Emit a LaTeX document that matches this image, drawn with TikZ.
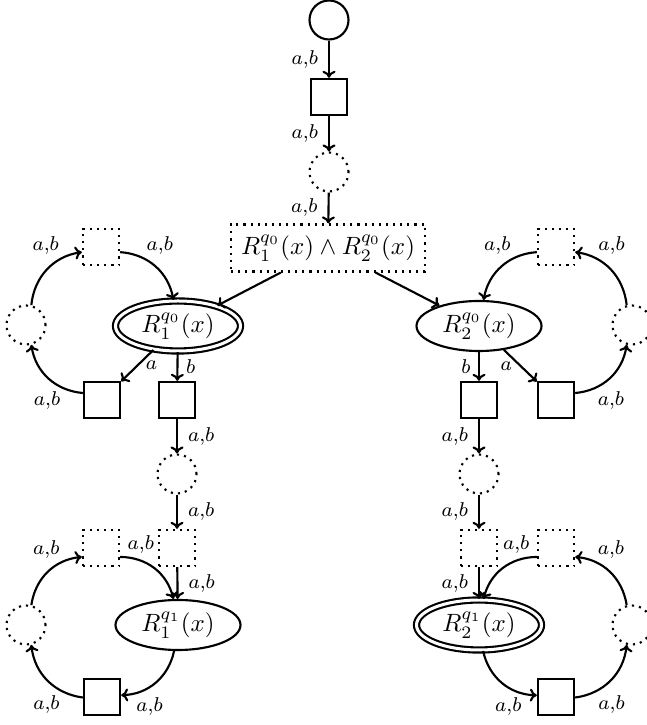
\documentclass[tikz,border=0pt]{standalone}
\usepackage{amsmath, amssymb}
\usetikzlibrary{shapes.geometric, arrows.meta}

\begin{document}
\begin{tikzpicture}[x=0.4pt, y=0.4pt, line width=0.85pt,
    >={Computer Modern Rightarrow[length=2.8pt, width=5.2pt]},
    sqstate/.style={draw, minimum size=14.5pt, inner sep=0pt},
    sqhole/.style={sqstate, dotted},
    cstate/.style={draw, circle, minimum size=15.6pt, inner sep=0pt},
    chole/.style={cstate, dotted},
    rel/.style={draw, ellipse, minimum width=50pt, minimum height=20pt, inner sep=1pt},
    accrel/.style={rel, double, double distance=1.2pt},
    lab/.style={font=\footnotesize, inner sep=1pt}]

    \useasboundingbox (0,0) rectangle (646,725);

    % Anfang
    \node[cstate] (init) at (329,705) {};
    \node[sqstate] (s0) at (329,628) {};
    \node[chole] (g0) at (329,553) {};
    \node[draw, dotted, minimum height=18.8pt, inner xsep=4pt] (conj) at (328,477) {$R_1^{q_0}(x) \wedge R_2^{q_0}(x)$};

    \draw[->] (init) -- node[lab, left=3pt] {$a{,}b$} (s0);
    \draw[->] (s0) -- node[lab, left=3pt] {$a{,}b$} (g0);
    \draw[->] (g0) -- node[lab, left=3pt] {$a{,}b$} (conj);

    % Relationen q0
    \node[accrel] (r1a) at (178,399) {$R_1^{q_0}(x)$};
    \node[rel] (r2a) at (479,399) {$R_2^{q_0}(x)$};
    \draw[->] (conj) -- (r1a);
    \draw[->] (conj) -- (r2a);

    % Schleife links oben
    \node[sqstate] (la) at (102,325) {};
    \node[sqstate] (lb) at (177,325) {};
    \node[chole] (lc) at (26,400) {};
    \node[sqhole] (lt) at (101,478) {};
    \draw[->] (r1a) -- node[lab, right=2pt] {$a$} (la);
    \draw[->] (r1a) -- node[lab, right=2pt] {$b$} (lb);
    \draw[->] (la.160) to[bend left=38] node[lab, pos=0.25, anchor=north east] {$a{,}b$} (lc.-75);
    \draw[->] (lc.75) to[bend left=38] node[lab, pos=0.75, anchor=south east] {$a{,}b$} (lt.195);
    \draw[->] (lt.-15) to[bend left=38] node[lab, pos=0.3, anchor=south west] {$a{,}b$} (r1a.100);

    % Schleife rechts oben
    \node[sqstate] (ra) at (556,325) {};
    \node[sqstate] (rb) at (479,325) {};
    \node[chole] (rc) at (632,400) {};
    \node[sqhole] (rt) at (556,478) {};
    \draw[->] (r2a) -- node[lab, left=2pt] {$a$} (ra);
    \draw[->] (r2a) -- node[lab, left=2pt] {$b$} (rb);
    \draw[->] (ra.20) to[bend right=38] node[lab, pos=0.25, anchor=north west] {$a{,}b$} (rc.-105);
    \draw[->] (rc.105) to[bend right=38] node[lab, pos=0.75, anchor=south west] {$a{,}b$} (rt.-15);
    \draw[->] (rt.195) to[bend right=38] node[lab, pos=0.3, anchor=south east] {$a{,}b$} (r2a.80);

    % Mitte
    \node[chole] (lm1) at (177,251) {};
    \node[sqhole] (lm2) at (177,177) {};
    \node[chole] (rm1) at (479,251) {};
    \node[sqhole] (rm2) at (479,177) {};

    % Relationen q1
    \node[rel] (r1b) at (178,100) {$R_1^{q_1}(x)$};
    \node[accrel] (r2b) at (479,100) {$R_2^{q_1}(x)$};

    \draw[->] (lb) -- node[lab, right=3pt] {$a{,}b$} (lm1);
    \draw[->] (lm1) -- node[lab, right=3pt] {$a{,}b$} (lm2);
    \draw[->] (lm2) -- node[lab, right=3pt] {$a{,}b$} (r1b);
    \draw[->] (rb) -- node[lab, left=3pt] {$a{,}b$} (rm1);
    \draw[->] (rm1) -- node[lab, left=3pt] {$a{,}b$} (rm2);
    \draw[->] (rm2) -- node[lab, left=3pt] {$a{,}b$} (r2b);

    % Schleife links unten
    \node[sqstate] (lbs) at (102,28) {};
    \node[chole] (lbc) at (26,100) {};
    \node[sqhole] (lbt) at (101,177) {};
    \draw[->] (lbt.-25) to[bend left=38] node[lab, pos=0.05, anchor=south west] {$a{,}b$} (r1b.100);
    \draw[->] (r1b) to[bend left=38] node[lab, pos=0.85, anchor=north west] {$a{,}b$} (lbs);
    \draw[->] (lbs) to[bend left=38] node[lab, pos=0.25, anchor=north east] {$a{,}b$} (lbc.-75);
    \draw[->] (lbc.75) to[bend left=38] node[lab, pos=0.75, anchor=south east] {$a{,}b$} (lbt.205);

    % Schleife rechts unten
    \node[sqstate] (rbs) at (556,28) {};
    \node[chole] (rbc) at (632,100) {};
    \node[sqhole] (rbt) at (556,177) {};
    \draw[->] (rbt.205) to[bend right=38] node[lab, pos=0.05, anchor=south east] {$a{,}b$} (r2b.80);
    \draw[->] (r2b) to[bend right=38] node[lab, pos=0.85, anchor=north east] {$a{,}b$} (rbs);
    \draw[->] (rbs) to[bend right=38] node[lab, pos=0.25, anchor=north west] {$a{,}b$} (rbc.-105);
    \draw[->] (rbc.105) to[bend right=38] node[lab, pos=0.75, anchor=south west] {$a{,}b$} (rbt.-25);

\end{tikzpicture}
\end{document}
